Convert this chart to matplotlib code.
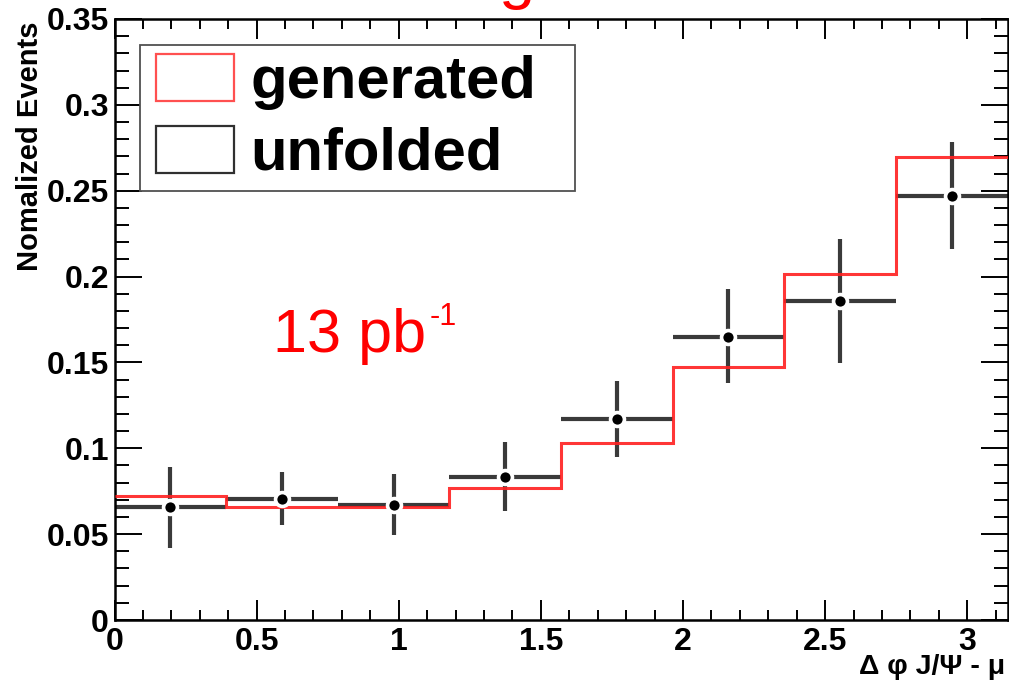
import numpy as np
import matplotlib
matplotlib.use("Agg")
import matplotlib.pyplot as plt
from matplotlib.patches import Patch, Rectangle
from matplotlib.legend_handler import HandlerPatch
from matplotlib.ticker import MultipleLocator, FuncFormatter

# ---- data ----
bin_edges = np.linspace(0, np.pi, 9)
generated = [0.0725, 0.0656, 0.0658, 0.0767, 0.1033, 0.1473, 0.2015, 0.2699]
unfolded = [0.0660, 0.0705, 0.0668, 0.0835, 0.1170, 0.1650, 0.1860, 0.2470]
unf_err_up = [0.0233, 0.0155, 0.0181, 0.0203, 0.0220, 0.0276, 0.0360, 0.0316]
unf_err_dn = [0.0238, 0.0153, 0.0173, 0.0200, 0.0222, 0.0272, 0.0365, 0.0310]
legend_labels = ["generated", "unfolded"]
y_label = "Nomalized Events"
x_label = "Δ φ J/Ψ - μ"
lumi_text = "13 pb"
lumi_sup = "-1"

plt.rcParams['font.family'] = ['Liberation Sans', 'DejaVu Sans']

fig = plt.figure(figsize=(10.09, 6.82), dpi=100)
ax = fig.add_axes([114.5/1009, 62/682, (1007.5-114.5)/1009, (620-19)/682])

centers = 0.5 * (bin_edges[:-1] + bin_edges[1:])
half_w = 0.5 * np.diff(bin_edges)

ebcol = '#3a3a3a'
ax.errorbar(centers, unfolded, xerr=half_w, yerr=[unf_err_dn, unf_err_up],
            fmt='none', ecolor=ebcol, elinewidth=3.0, capsize=0, zorder=2)
ax.stairs(generated, bin_edges, baseline=None, color='#ff2020', linewidth=2.2,
          alpha=0.9, zorder=3)
ax.plot(centers, unfolded, linestyle='none', marker='o', markersize=10,
        markerfacecolor='black', markeredgecolor='white', markeredgewidth=2.6, zorder=4)

ax.set_xlim(0, np.pi)
ax.set_ylim(0, 0.35)
ax.xaxis.set_major_locator(MultipleLocator(0.5))
ax.xaxis.set_minor_locator(MultipleLocator(0.1))
ax.yaxis.set_major_locator(MultipleLocator(0.05))
ax.yaxis.set_minor_locator(MultipleLocator(0.01))
ax.xaxis.set_major_formatter(FuncFormatter(lambda v, p: f"{v:g}"))
ax.yaxis.set_major_formatter(FuncFormatter(lambda v, p: f"{v:g}"))

ax.tick_params(axis='both', which='both', direction='in', top=True, right=True, width=1.4)
ax.tick_params(axis='x', which='major', length=14.5, pad=5)
ax.tick_params(axis='x', which='minor', length=7.5)
ax.tick_params(axis='y', which='major', length=19.5, pad=4)
ax.tick_params(axis='y', which='minor', length=10)
for lab in ax.get_xticklabels() + ax.get_yticklabels():
    lab.set_fontsize(23)
    lab.set_fontweight('bold')
for s in ax.spines.values():
    s.set_linewidth(1.8)


class OffsetBoxHandler(HandlerPatch):
    def __init__(self, frac, **kw):
        super().__init__(**kw)
        self.frac = frac

    def create_artists(self, legend, orig_handle, xdescent, ydescent, width,
                       height, fontsize, trans):
        off = width * self.frac
        p = Rectangle((-xdescent + off, -ydescent), width - off, height,
                      facecolor='none', edgecolor=orig_handle.get_edgecolor(),
                      linewidth=orig_handle.get_linewidth(), transform=trans)
        return [p]


handles = [Patch(facecolor='none', edgecolor='#ff5050', linewidth=1.6),
           Patch(facecolor='none', edgecolor='#303030', linewidth=1.6)]
leg = ax.legend(handles, legend_labels, loc='upper left',
                bbox_to_anchor=(25.5/893, (620-45)/601, 435/893, 0.0), mode='expand',
                prop={'family': 'Liberation Sans', 'weight': 'bold', 'size': 43},
                handlelength=1.424, handleheight=0.84, handletextpad=0.27,
                borderpad=0.15, labelspacing=0.256, borderaxespad=0,
                fancybox=False, framealpha=1, edgecolor='#505050',
                handler_map={Patch: OffsetBoxHandler(7/85)})
leg.get_frame().set_linewidth(1.3)

ax.text(0.556, 0.156, lumi_text, color='red', fontsize=44, ha='left', va='baseline')
ax.text(1.108, 0.172, lumi_sup, color='red', fontsize=22, ha='left', va='baseline')

fig.text(30/1009, 1 - 146/682, y_label, rotation=90, ha='center', va='center',
         fontsize=21, fontweight='bold')
fig.text(1005/1009, 1 - 667/682, x_label, ha='right', va='center',
         fontsize=20.5, fontweight='bold')
fig.text(498/1009, 1 + 3/682, 'g', color='red', fontsize=47, ha='left', va='baseline')

fig.savefig('out.png', dpi=100)
